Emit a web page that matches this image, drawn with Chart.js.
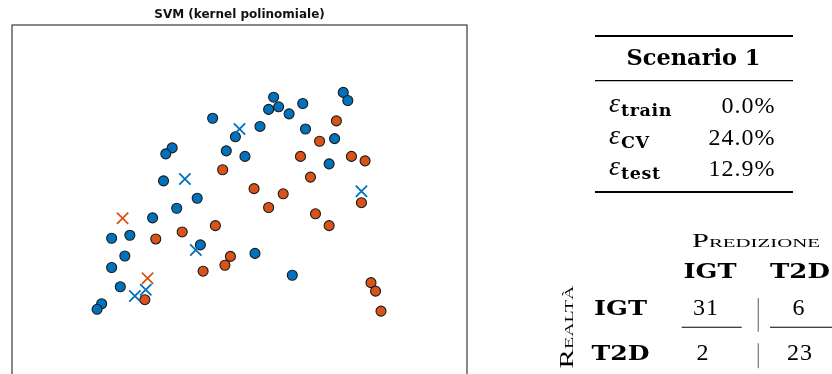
<!DOCTYPE html>
<html>
<head>
  <meta charset="UTF-8">
  <title>SVM (kernel polinomiale)</title>
  <script src="https://cdn.jsdelivr.net/npm/chart.js"></script>
  <style>
    body {
      margin: 0;
      width: 832px;
      height: 374px;
      overflow: hidden;
      background: #fff;
    }
    #plot {
      position: absolute;
      left: 0;
      top: 0;
      width: 480px;
      height: 405px;
    }
    #tables {
      position: absolute;
      left: 0;
      top: 0;
    }
    .bf { font-family: 'DejaVu Serif', serif; font-weight: bold; }
    .rm { font-family: 'Liberation Serif', serif; }
    .sc { font-family: 'Liberation Serif', serif; font-variant: small-caps; }
  </style>
</head>
<body>
  <div id="plot"><canvas id="svmChart"></canvas></div>
  <svg id="tables" width="832" height="374" xmlns="http://www.w3.org/2000/svg"></svg>

  <script>
    // training points (circles) and test points (crosses), per class
    const trainIGT = [
      [72.8, 81.8], [57.5, 80.5], [73.8, 79.6], [63.9, 78.8], [58.6, 77.9], [56.4, 77.2],
      [60.9, 76.0], [44.1, 74.8], [54.5, 72.6], [64.5, 71.9], [49.1, 69.8], [70.9, 69.3],
      [35.2, 66.8], [47.1, 66.0], [33.8, 65.2], [51.2, 64.5], [69.7, 62.5], [33.3, 57.9],
      [40.7, 53.2], [36.2, 50.5], [30.9, 47.9], [25.9, 43.2], [21.9, 42.4], [41.4, 40.6],
      [53.4, 38.3], [24.8, 37.6], [21.9, 34.5], [61.6, 32.4], [23.8, 29.3], [19.7, 24.7],
      [18.7, 23.2]
    ];
    const trainT2D = [
      [71.3, 74.1], [67.6, 68.6], [74.6, 64.5], [63.4, 64.5], [77.6, 63.3], [46.3, 60.9],
      [65.6, 58.9], [53.2, 55.8], [59.6, 54.4], [76.8, 52.0], [56.4, 50.7], [66.7, 49.0],
      [44.7, 45.8], [69.7, 45.8], [37.4, 44.1], [31.6, 42.2], [48.0, 37.5], [46.8, 35.1],
      [42.0, 33.5], [78.9, 30.4], [79.9, 28.1], [29.2, 25.8], [81.1, 22.7]
    ];
    const testIGT = [[50.0, 71.9], [38.0, 58.4], [76.8, 55.1], [40.4, 39.2], [29.4, 28.5], [27.0, 26.8]];
    const testT2D = [[24.3, 47.8], [29.8, 31.6]];

    // error summary and confusion matrix
    const scenario = 'Scenario 1';
    const errorNames = ['train', 'CV', 'test'];
    const errorValues = ['0.0%', '24.0%', '12.9%'];
    const classes = ['IGT', 'T2D'];
    const confusion = [[31, 6], [2, 23]];

    const BLUE = '#0072BD';
    const ORANGE = '#D95319';

    const toXY = arr => arr.map(p => ({ x: p[0], y: p[1] }));

    // box around the plotting area
    const frame = {
      id: 'frame',
      afterDraw(chart) {
        const a = chart.chartArea;
        const ctx = chart.ctx;
        ctx.save();
        ctx.strokeStyle = '#3a3a3a';
        ctx.lineWidth = 1.2;
        ctx.strokeRect(a.left, a.top, a.right - a.left, a.bottom - a.top);
        ctx.restore();
      }
    };

    new Chart(document.getElementById('svmChart'), {
      type: 'scatter',
      data: {
        datasets: [
          {
            label: 'IGT test', data: toXY(testIGT), order: 0,
            pointStyle: 'crossRot', pointRadius: 8, borderColor: BLUE, borderWidth: 1.8
          },
          {
            label: 'T2D test', data: toXY(testT2D), order: 0,
            pointStyle: 'crossRot', pointRadius: 8, borderColor: ORANGE, borderWidth: 1.8
          },
          {
            label: 'IGT', data: toXY(trainIGT), order: 1,
            pointRadius: 5, backgroundColor: BLUE, borderColor: '#1a1a1a', borderWidth: 1.1
          },
          {
            label: 'T2D', data: toXY(trainT2D), order: 2,
            pointRadius: 5, backgroundColor: ORANGE, borderColor: '#1a1a1a', borderWidth: 1.1
          }
        ]
      },
      options: {
        responsive: true,
        maintainAspectRatio: false,
        animation: false,
        events: [],
        layout: { padding: { left: 12, right: 13, top: 0, bottom: 5 } },
        plugins: {
          legend: { display: false },
          tooltip: { enabled: false },
          title: {
            display: true,
            text: 'SVM (kernel polinomiale)',
            color: '#111',
            font: { family: 'DejaVu Sans', size: 12, weight: 'bold' },
            padding: { top: 8, bottom: 2.6 }
          }
        },
        scales: {
          x: { display: false, min: 0, max: 100 },
          y: { display: false, min: 0, max: 100 }
        }
      },
      plugins: [frame]
    });

    // tables on the right
    const svg = document.getElementById('tables');
    const NS = 'http://www.w3.org/2000/svg';

    function el(tag, attrs, text) {
      const e = document.createElementNS(NS, tag);
      for (const k in attrs) e.setAttribute(k, attrs[k]);
      if (text !== undefined) e.textContent = text;
      svg.appendChild(e);
      return e;
    }
    function rule(x1, x2, y, w, color) {
      el('line', { x1: x1, x2: x2, y1: y, y2: y, stroke: color || '#000', 'stroke-width': w });
    }

    rule(595, 793, 36, 2);
    el('text', { x: 693.5, y: 64.7, 'text-anchor': 'middle', class: 'bf', 'font-size': 22,
      textLength: 134, lengthAdjust: 'spacingAndGlyphs' }, scenario);
    rule(595, 793, 80.6, 1.3);

    const rowBase = [112, 143.5, 174.5];
    errorNames.forEach((name, i) => {
      const t = el('text', { x: 609, y: rowBase[i], class: 'rm', 'font-size': 28, 'font-style': 'italic' });
      const eps = document.createElementNS(NS, 'tspan');
      eps.textContent = 'ε';
      t.appendChild(eps);
      const sub = document.createElementNS(NS, 'tspan');
      sub.setAttribute('class', 'bf');
      sub.setAttribute('font-style', 'normal');
      sub.setAttribute('font-size', 17.5);
      sub.setAttribute('letter-spacing', 0.6);
      sub.setAttribute('dx', 1);
      sub.setAttribute('dy', 4);
      sub.textContent = name;
      t.appendChild(sub);
      el('text', { x: 775.5, y: rowBase[i] + 1, 'text-anchor': 'end', class: 'rm', 'font-size': 24,
        'letter-spacing': 1 }, errorValues[i]);
    });
    rule(595, 793, 192, 2);

    // confusion matrix
    el('text', { x: 756, y: 246.7, 'text-anchor': 'middle', class: 'sc', 'font-size': 19,
      textLength: 128, lengthAdjust: 'spacingAndGlyphs' }, 'Predizione');
    const colX = [710, 800];
    const numX = [[706, 799], [703, 800]];
    const rowY = [315, 360];
    classes.forEach((c, j) => {
      el('text', { x: colX[j], y: 278.3, 'text-anchor': 'middle', class: 'bf', 'font-size': 21,
        textLength: j === 0 ? 53 : 60, lengthAdjust: 'spacingAndGlyphs' }, c);
    });
    classes.forEach((c, i) => {
      el('text', { x: 620.5, y: rowY[i], 'text-anchor': 'middle', class: 'bf', 'font-size': 21,
        textLength: i === 0 ? 53 : 58, lengthAdjust: 'spacingAndGlyphs' }, c);
      confusion[i].forEach((v, j) => {
        el('text', { x: numX[i][j], y: rowY[i], 'text-anchor': 'middle', class: 'rm', 'font-size': 24,
          'letter-spacing': 1 }, String(v));
      });
    });
    rule(681.7, 741.7, 327.3, 1.1);
    rule(770, 832, 327.3, 1.1);
    el('line', { x1: 758.3, x2: 758.3, y1: 298, y2: 331.7, stroke: '#808080', 'stroke-width': 1.3 });
    el('line', { x1: 758.3, x2: 758.3, y1: 343.3, y2: 368.3, stroke: '#808080', 'stroke-width': 1.3 });
    el('text', { transform: 'translate(572.5,327) rotate(-90)', 'text-anchor': 'middle', class: 'sc',
      'font-size': 19, textLength: 83, lengthAdjust: 'spacingAndGlyphs' }, 'Realtà');
  </script>
</body>
</html>
